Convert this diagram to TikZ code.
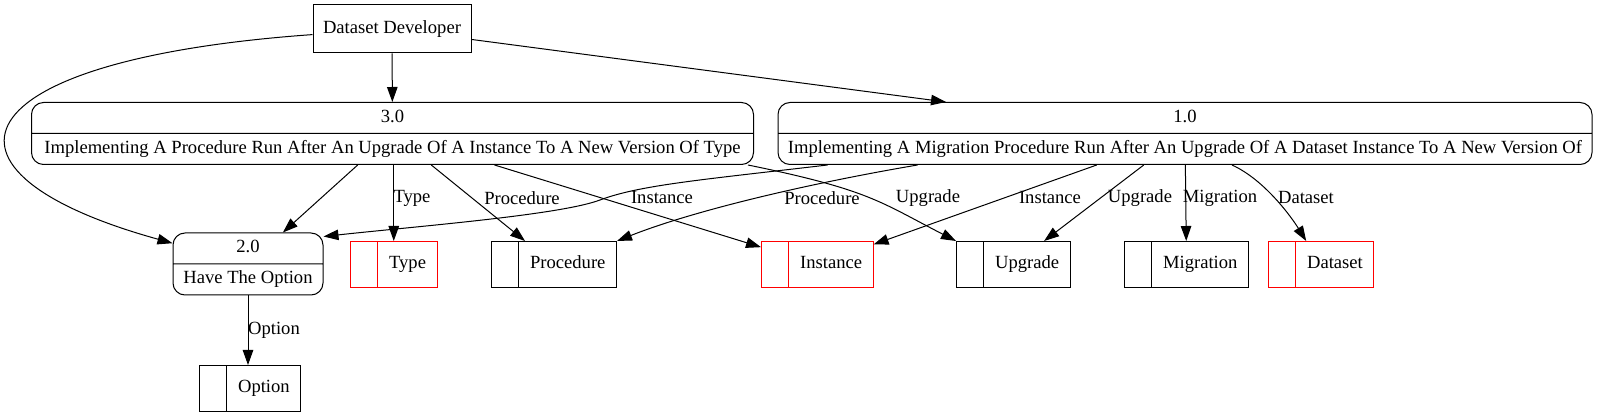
\documentclass[tikz,border=0pt]{standalone}
\usepackage{fontspec}
\setmainfont{Liberation Serif}
\usetikzlibrary{shapes, arrows.meta}

\begin{document}
\begin{tikzpicture}[-, >={Triangle[length=15pt, width=10.5pt]}, line width=1pt, x=1pt, y=-1pt,
        font=\fontsize{18.6}{22}\selectfont,
        every edge/.append style={->},
        proc/.style={rectangle split, rectangle split parts=2, draw, rounded corners=12pt, inner xsep=4pt, inner ysep=4pt},
        store/.style={rectangle split, rectangle split horizontal, rectangle split parts=2, draw, rectangle split empty part width=0pt, inner xsep=11pt, inner ysep=12pt, anchor=west},
        lbl/.style={inner sep=0pt}]
        \useasboundingbox (0,0) rectangle (1598,419);
        \node [draw, minimum width=158pt, minimum height=48pt] (dev) at (392,29) {Dataset Developer};
        \node [proc] (p3) at (392.5,133.5) {\makebox[714pt]{\strut 3.0} \nodepart{two}\makebox[714pt]{\strut Implementing A Procedure Run After An Upgrade Of A Instance To A New Version Of Type}};
        \node [proc] (p1) at (1185,133.5) {\makebox[806pt]{\strut 1.0} \nodepart{two}\makebox[806pt]{\strut Implementing A Migration Procedure Run After An Upgrade Of A Dataset Instance To A New Version Of}};
        \node [proc] (p2) at (248,264) {\makebox[142pt]{\strut 2.0} \nodepart{two}\makebox[142pt]{\strut Have The Option}};
        \node [store, draw=red] (type) at (350,264.5) {\nodepart{two}\strut Type};
        \node [store] (proc) at (491,264.5) {\nodepart{two}\strut Procedure};
        \node [store, draw=red] (inst) at (761,264.5) {\nodepart{two}\strut Instance};
        \node [store] (upg) at (956,264.5) {\nodepart{two}\strut Upgrade};
        \node [store] (mig) at (1124,264.5) {\nodepart{two}\strut Migration};
        \node [store, draw=red] (ds) at (1268,264.5) {\nodepart{two}\strut Dataset};
        \node [store] (opt) at (199,388.5) {\nodepart{two}\strut Option};
        % edge labels
        \node [lbl] (lType) at (412,198) {Type};
        \node [lbl] (lProc3) at (522,198) {Procedure};
        \node [lbl] (lInst3) at (662,198) {Instance};
        \node [lbl] (lProc1) at (822,198) {Procedure};
        \node [lbl] (lUpg3) at (928,198) {Upgrade};
        \node [lbl] (lInst1) at (1050,198) {Instance};
        \node [lbl] (lUpg1) at (1140,198) {Upgrade};
        \node [lbl] (lMig) at (1220,198) {Migration};
        \node [lbl] (lDs) at (1306,198) {Dataset};
        \node [lbl] (lOpt) at (274,330) {Option};
        \path (dev) edge (p3);
        \path (dev) edge (p1);
        \draw [->] (dev) .. controls (-45,60) and (-85,172) .. (p2);
        \path (p3) edge (p2);
        \path (p3.south -| type.north) edge (type);
        \path (p3) edge (proc);
        \path (p3) edge (inst);
        \draw [->] ([xshift=-6pt]p3.south east) .. controls (870,190) and (880,202) .. (upg.north west);
        \draw [->] ([xshift=50pt]p1.south west) .. controls (700,180) and (640,185) .. (600,200) .. controls (560,215) and (420,226) .. ([yshift=-4pt]p2.north east);
        \draw [->] ([xshift=140pt]p1.south west) .. controls (800,185) and (690,212) .. (proc.north east);
        \path (p1) edge (inst);
        \path (p1) edge (upg);
        \path (p1) edge (mig);
        \draw [->] ([xshift=47pt]p1.south) .. controls (1265,180) and (1292,218) .. ([xshift=-15pt]ds.north);
        \path (p2) edge (opt.north -| p2.south);
    \end{tikzpicture}
\end{document}
